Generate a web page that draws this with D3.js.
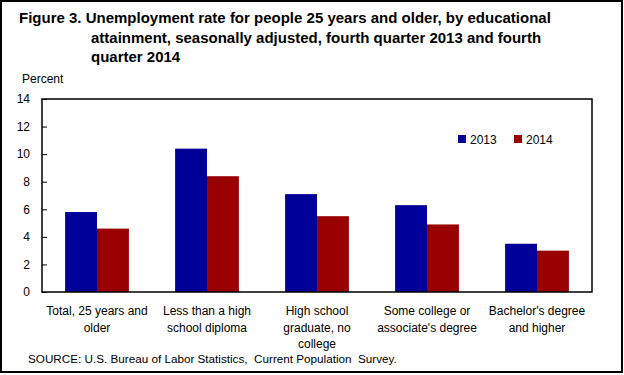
<!DOCTYPE html>
<html>
<head>
<meta charset="utf-8">
<script src="https://cdn.jsdelivr.net/npm/d3@7"></script>
<style>
  body { margin: 0; background: #fff; }
  svg { display: block; font-family: "Liberation Sans", Arial, sans-serif; }
  .axis-y .domain { display: none; }
  .axis-y text { font-size: 12px; fill: #000; }
</style>
</head>
<body>
<svg width="624" height="375"></svg>
<script>
// Data
const categories = [
  ['Total, 25 years and', 'older'],
  ['Less than a high', 'school diploma'],
  ['High school', 'graduate, no', 'college'],
  ['Some college or', "associate's degree"],
  ["Bachelor's degree", 'and higher']
]
const years = ['2013', '2014']
const values2013 = [5.8, 10.4, 7.1, 6.3, 3.5]
const values2014 = [4.6, 8.4, 5.5, 4.9, 3.0]
const yTicks = [0, 2, 4, 6, 8, 10, 12, 14]
const colors = ['#000099', '#990000']

const titleLines = [
  'Figure 3. Unemployment rate for people 25 years and older, by educational',
  'attainment, seasonally adjusted, fourth quarter 2013 and fourth',
  'quarter 2014'
]
const sourceText = 'SOURCE: U.S. Bureau of Labor Statistics,  Current Population  Survey.'

const svg = d3.select('svg')
const plot = {left: 42, right: 592, top: 99, bottom: 292}

// outer frame
svg.append('rect')
  .attr('x', 1).attr('y', 1)
  .attr('width', 621).attr('height', 371)
  .attr('fill', 'none').attr('stroke', '#000').attr('stroke-width', 2)

// title
const title = svg.append('text')
  .attr('font-weight', 'bold')
  .attr('font-size', '15px')
title.selectAll('tspan')
  .data(titleLines)
  .enter()
  .append('tspan')
  .attr('x', (d, i) => i === 0 ? 19 : 91)
  .attr('y', (d, i) => 23 + i * 19.5)
  .text(d => d)

// Scales
const x = d3.scaleBand()
  .domain(d3.range(categories.length))
  .range([plot.left, plot.right])
  .paddingInner(0.42)
  .paddingOuter(0.21)
const x1 = d3.scaleBand().domain(years).range([0, x.bandwidth()])
const y = d3.scaleLinear().domain([0, 14]).range([plot.bottom, plot.top])

// y axis, ticks pointing into the plot
svg.append('g')
  .attr('class', 'axis-y')
  .attr('transform', 'translate(' + plot.left + ',0)')
  .call(d3.axisLeft(y).tickValues(yTicks).tickSize(-5).tickPadding(12))
  .call(g => g.selectAll('.tick line').attr('stroke', '#000'))

svg.append('text')
  .attr('x', 22).attr('y', 83)
  .attr('font-size', '12px')
  .text('Percent')

// bars
const series = [values2013, values2014]
const groups = svg.selectAll('.group')
  .data(categories)
  .enter()
  .append('g')
  .attr('class', 'group')
  .attr('transform', (d, i) => 'translate(' + x(i) + ',0)')

groups.selectAll('rect')
  .data((d, i) => years.map((yr, s) => ({yr, v: series[s][i], s})))
  .enter()
  .append('rect')
  .attr('x', d => x1(d.yr))
  .attr('y', d => y(d.v))
  .attr('width', x1.bandwidth())
  .attr('height', d => y(0) - y(d.v))
  .attr('fill', d => colors[d.s])

// plot frame
svg.append('rect')
  .attr('x', plot.left).attr('y', plot.top)
  .attr('width', plot.right - plot.left).attr('height', plot.bottom - plot.top)
  .attr('fill', 'none').attr('stroke', '#000').attr('stroke-width', 1.5)

// category labels
groups.append('text')
  .attr('text-anchor', 'middle')
  .attr('font-size', '12px')
  .selectAll('tspan')
  .data(d => d)
  .enter()
  .append('tspan')
  .attr('x', x.bandwidth() / 2)
  .attr('y', (d, i) => 315 + i * 16.5)
  .text(d => d)

// legend
const legendX = [458, 514]
const legend = svg.selectAll('.legend')
  .data(years)
  .enter()
  .append('g')
  .attr('class', 'legend')
  .attr('transform', (d, i) => 'translate(' + legendX[i] + ',135)')
legend.append('rect')
  .attr('width', 8).attr('height', 8)
  .attr('fill', (d, i) => colors[i])
legend.append('text')
  .attr('x', 12).attr('y', 9)
  .attr('font-size', '12px')
  .text(d => d)

// source
svg.append('text')
  .attr('x', 28).attr('y', 363)
  .attr('font-size', '11.7px')
  .attr('xml:space', 'preserve')
  .style('white-space', 'pre')
  .text(sourceText)
</script>
</body>
</html>
